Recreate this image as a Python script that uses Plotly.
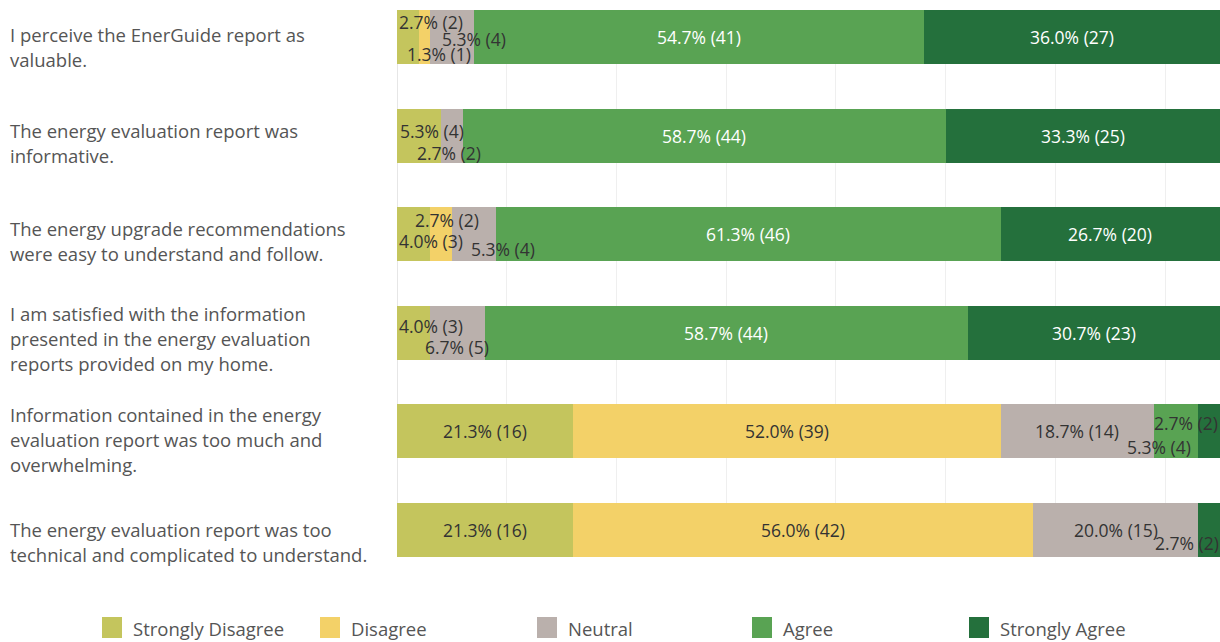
import plotly.graph_objects as go

# ---------------- data ----------------
statements = [
    "I perceive the EnerGuide report as valuable.",
    "The energy evaluation report was informative.",
    "The energy upgrade recommendations were easy to understand and follow.",
    "I am satisfied with the information presented in the energy evaluation reports provided on my home.",
    "Information contained in the energy evaluation report was too much and overwhelming.",
    "The energy evaluation report was too technical and complicated to understand.",
]
statement_lines = [
    ["I perceive the EnerGuide report as", "valuable."],
    ["The energy evaluation report was", "informative."],
    ["The energy upgrade recommendations", "were easy to understand and follow."],
    ["I am satisfied with the information", "presented in the energy evaluation", "reports provided on my home."],
    ["Information contained in the energy", "evaluation report was too much and", "overwhelming."],
    ["The energy evaluation report was too", "technical and complicated to understand."],
]
responses = ["Strongly Disagree", "Disagree", "Neutral", "Agree", "Strongly Agree"]
strongly_disagree = [2, 4, 3, 3, 16, 16]
disagree = [1, 0, 2, 0, 39, 42]
neutral = [4, 2, 4, 5, 14, 15]
agree = [41, 44, 46, 44, 4, 0]
strongly_agree = [27, 25, 20, 23, 2, 2]
total_respondents = 75

series = [strongly_disagree, disagree, neutral, agree, strongly_agree]

# ---------------- style ----------------
colors = ["#c4c55d", "#f3d168", "#bab0ac", "#59a353", "#24703c"]
label_colors = ["#333333", "#333333", "#333333", "#ffffff", "#ffffff"]
FONT = "'Open Sans', Lato, sans-serif"
GREY_TEXT = "#555555"
LABEL_SIZE = 17.5
CAT_SIZE = 18.5

# manual offsets (px) for crowded small-segment labels: (row, series) -> (xshift, yshift)
small_offsets = {
    (0, 0): (23, 15), (0, 1): (15, -17), (0, 2): (22, -2),
    (1, 0): (13, 5), (1, 2): (-3, -17),
    (2, 0): (18, -7), (2, 1): (6, 14), (2, 2): (29, -15),
    (3, 0): (18, 7), (3, 2): (0, -14),
    (4, 3): (-17, -16), (4, 4): (-23, 8),
    (5, 4): (-22, -13),
}
# vertical offset (px) of each category label block relative to its bar
cat_label_shift = [-10, -7.5, -6.5, -6, -8, -12]

# plot-area geometry in pixels
W, H = 1220, 642
PL, PR, PT, PB = 397, 0, 10, 85
plot_w = W - PL - PR
plot_h = H - PT - PB


def px_to_paper_x(px):
    return (px - PL) / plot_w


def px_to_paper_y(py):
    return (H - PB - py) / plot_h


fig = go.Figure()
for name, vals, col in zip(responses, series, colors):
    fig.add_trace(go.Bar(
        name=name, y=statements, x=vals, orientation="h",
        marker=dict(color=col, line=dict(width=0)),
        customdata=[v / total_respondents * 100 for v in vals],
        hovertemplate="%{y}<br>" + name + ": %{customdata:.1f}% (%{x})<extra></extra>",
        showlegend=False,
    ))

annotations = []
# segment labels
for r, stmt in enumerate(statements):
    cum = 0
    for s, vals in enumerate(series):
        v = vals[r]
        if v > 0:
            pct = v / total_respondents * 100
            xs, ys = small_offsets.get((r, s), (0, 0))
            small = (r, s) in small_offsets
            annotations.append(dict(
                x=cum + v / 2, y=stmt, xref="x", yref="y",
                text=f"{pct:.1f}% ({v})", showarrow=False,
                xshift=xs, yshift=ys,
                font=dict(family=FONT, size=LABEL_SIZE,
                          color="#333333" if small else label_colors[s]),
            ))
        cum += v

# category labels (left aligned, wrapped)
LINE_H = 25
for r, stmt in enumerate(statements):
    lines = statement_lines[r]
    n = len(lines)
    for i, line in enumerate(lines):
        annotations.append(dict(
            x=px_to_paper_x(8), y=stmt, xref="paper", yref="y",
            xanchor="left", yanchor="middle", align="left",
            text=line, showarrow=False,
            yshift=cat_label_shift[r] - (i - (n - 1) / 2) * LINE_H,
            font=dict(family=FONT, size=CAT_SIZE, color=GREY_TEXT),
        ))

# manual legend
shapes = []
legend_px = [102, 320, 537, 752, 969]
for name, col, lx in zip(responses, colors, legend_px):
    shapes.append(dict(
        type="rect", xref="paper", yref="paper",
        x0=px_to_paper_x(lx), x1=px_to_paper_x(lx + 20),
        y0=px_to_paper_y(638), y1=px_to_paper_y(617),
        fillcolor=col, line=dict(width=0),
    ))
    annotations.append(dict(
        x=px_to_paper_x(lx + 29), y=px_to_paper_y(628),
        xref="paper", yref="paper", xanchor="left", yanchor="middle",
        text=name, showarrow=False,
        font=dict(family=FONT, size=CAT_SIZE, color=GREY_TEXT),
    ))

n_cat = len(statements)
half = 0.2737
fig.update_layout(
    width=W, height=H,
    barmode="stack", bargap=0.452,
    margin=dict(l=PL, r=PR, t=PT, b=PB, pad=0),
    plot_bgcolor="white", paper_bgcolor="white",
    font=dict(family=FONT, color=GREY_TEXT),
    showlegend=False,
    annotations=annotations,
    shapes=shapes,
    xaxis=dict(range=[0, total_respondents], dtick=10, tick0=0,
               showgrid=True, gridcolor="#efefef", gridwidth=1,
               zeroline=True, zerolinecolor="#e6e6e6", zerolinewidth=1,
               showticklabels=False, showline=False, ticks="", fixedrange=True),
    yaxis=dict(type="category", categoryorder="array", categoryarray=statements,
               range=[n_cat - 1 + half, -half],
               showticklabels=False, showgrid=False, zeroline=False,
               showline=False, ticks="", fixedrange=True),
)

fig.write_html(
    "out.html",
    config={"displayModeBar": False},
    post_script="document.body.style.margin='0';document.body.style.overflow='hidden';",
)
